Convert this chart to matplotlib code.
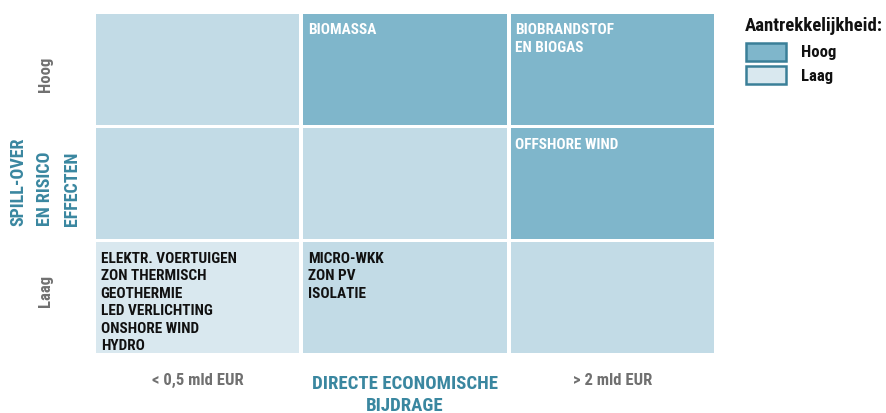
import matplotlib
matplotlib.use('Agg')
import matplotlib.pyplot as plt
from matplotlib.patches import Rectangle

plt.rcParams['font.family'] = ['Liberation Sans Narrow', 'Arial Narrow', 'Roboto Condensed',
                               'Liberation Sans']
plt.rcParams['font.weight'] = 'bold'

dark = '#7fb6cb'
mid = '#c2dbe6'
light = '#d9e8ef'
blue = '#3a87a0'
grey = '#707070'

# rows from bottom (Laag) to top (Hoog), columns from left to right
x_labels = ['< 0,5 mld EUR', '', '> 2 mld EUR']
y_labels = ['Laag', '', 'Hoog']
levels = [[0, 1, 1],
          [1, 1, 2],
          [1, 2, 2]]
cell_text = [['ELEKTR. VOERTUIGEN\nZON THERMISCH\nGEOTHERMIE\nLED VERLICHTING\nONSHORE WIND\nHYDRO',
              'MICRO-WKK\nZON PV\nISOLATIE', ''],
             ['', '', 'OFFSHORE WIND'],
             ['', 'BIOMASSA', 'BIOBRANDSTOF\nEN BIOGAS']]
level_colors = [light, mid, dark]
text_colors = ['#111111', '#111111', 'white']

fig = plt.figure(figsize=(8.86, 4.14), dpi=100)
ax = fig.add_axes([94/886, 1-356/414, 622/886, 343/414])
ax.set_xlim(0, 3)
ax.set_ylim(0, 3)
ax.axis('off')

gx, gy = 0.018, 0.028
for r in range(3):
    for c in range(3):
        lvl = levels[r][c]
        ax.add_patch(Rectangle((c + gx/2, r + gy/2), 1 - gx, 1 - gy,
                               facecolor=level_colors[lvl], edgecolor='none'))
        if cell_text[r][c]:
            ax.text(c + 0.032, r + 1 - 0.09, cell_text[r][c], ha='left', va='top',
                    fontsize=11, color=text_colors[lvl], linespacing=1.31)

for c, lab in enumerate(x_labels):
    if lab:
        ax.text(c + 0.5, -0.21, lab, ha='center', va='center', fontsize=12, color=grey)
ax.text(1.5, -0.34, 'DIRECTE ECONOMISCHE\nBIJDRAGE', ha='center', va='center',
        fontsize=13.5, color=blue, linespacing=1.32)

for r, lab in enumerate(y_labels):
    if lab:
        fig.text(45/886, 1 - (291 if r == 0 else 74)/414, lab, rotation=90,
                 ha='center', va='center', fontsize=12, color=grey)
fig.text(45/886, 1 - 182/414, 'SPILL-OVER\nEN RISICO\nEFFECTEN', rotation=90,
         ha='center', va='center', multialignment='left', fontsize=13,
         color=blue, linespacing=1.62)

# legend
fig.text(745/886, 1 - 26/414, 'Aantrekkelijkheid:', ha='left', va='center',
         fontsize=13.5, color='#111111')
for i, (lab, col) in enumerate([('Hoog', dark), ('Laag', light)]):
    yc = 53 + i * 23
    fig.patches.append(Rectangle((746/886, 1 - (yc + 9)/414), 40/886, 18/414,
                                 transform=fig.transFigure, facecolor=col,
                                 edgecolor='#3a7f98', linewidth=1.8))
    fig.text(801/886, 1 - yc/414, lab, ha='left', va='center', fontsize=12,
             color='#111111')

fig.savefig('out.png', dpi=100)
